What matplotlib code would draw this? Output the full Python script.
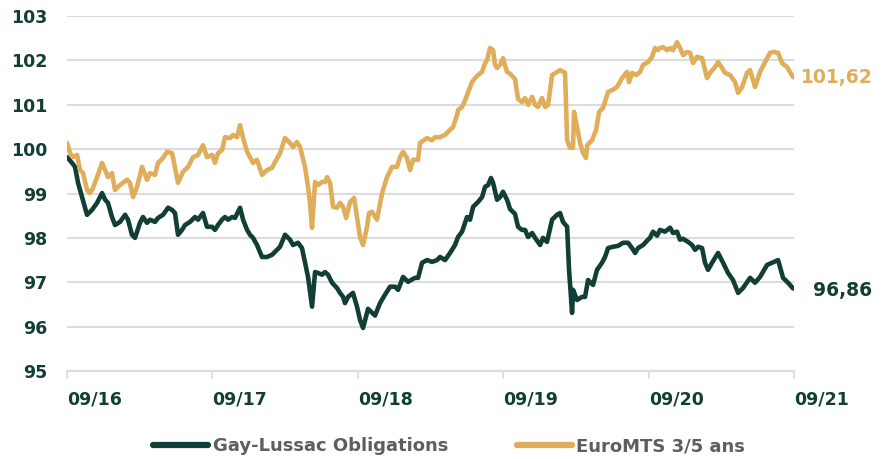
import numpy as np
import pandas as pd
import matplotlib
matplotlib.use("Agg")
import matplotlib.pyplot as plt

plt.rcParams['font.family'] = ['DejaVu Sans']

# months elapsed since 09/2016
gold_months = [0.00, 0.25, 0.50, 0.83, 1.07, 1.32, 1.65, 1.90, 2.15, 2.48, 2.89, 3.14, 3.38, 3.71, 3.96,
               4.37, 4.95, 5.20, 5.45, 5.78, 6.19, 6.60, 6.85, 7.26, 7.51, 7.92, 8.25, 8.67, 9.16, 9.57,
               9.99, 10.40, 10.81, 11.22, 11.55, 11.97, 12.21, 12.46, 12.79, 13.04, 13.45, 13.70, 14.03,
               14.28, 14.53, 14.86, 15.10, 15.35, 15.68, 16.09, 16.51, 16.92, 17.17, 17.58, 17.99, 18.40,
               18.65, 18.98, 19.23, 19.64, 19.89, 20.05, 20.22, 20.47, 20.71, 21.05, 21.29, 21.46, 21.71,
               21.95, 22.28, 22.53, 22.78, 23.03, 23.36, 23.69, 23.93, 24.18, 24.43, 24.76, 24.92, 25.17,
               25.58, 26.00, 26.41, 26.82, 27.23, 27.48, 27.73, 28.06, 28.31, 28.56, 28.97, 29.13, 29.71,
               30.12, 30.37, 30.78, 31.20, 31.44, 31.86, 32.19, 32.27, 32.60, 32.85, 33.09, 33.42, 33.67,
               33.92, 34.25, 34.50, 34.66, 34.91, 35.16, 35.32, 35.49, 35.74, 35.98, 36.31, 36.56, 36.97,
               37.22, 37.55, 37.80, 38.05, 38.38, 38.63, 38.87, 39.20, 39.45, 39.70, 40.03, 40.44, 40.69,
               41.10, 41.27, 41.51, 41.76, 41.84, 42.09, 42.34, 42.59, 42.83, 42.92, 43.33, 43.66, 43.91,
               44.24, 44.65, 44.98, 45.39, 45.80, 46.22, 46.38, 46.63, 46.96, 47.29, 47.54, 47.95, 48.28,
               48.53, 48.77, 48.94, 49.19, 49.52, 49.77, 50.01, 50.34, 50.59, 50.84, 51.17, 51.42, 51.66,
               51.99, 52.41, 52.82, 53.07, 53.48, 53.73, 54.06, 54.30, 54.72, 55.13, 55.38, 55.71, 56.12,
               56.37, 56.78, 57.19, 57.60, 58.02, 58.35, 58.68, 59.01, 59.42, 59.92]
gold_values = [100.14, 99.91, 99.82, 99.87, 99.53, 99.46, 99.08, 99.01, 99.13, 99.37, 99.69, 99.53, 99.37,
               99.46, 99.08, 99.19, 99.31, 99.24, 98.92, 99.15, 99.60, 99.31, 99.46, 99.42, 99.69, 99.80,
               99.94, 99.91, 99.24, 99.49, 99.60, 99.82, 99.87, 100.09, 99.82, 99.87, 99.69, 99.91, 99.98,
               100.27, 100.25, 100.32, 100.27, 100.54, 100.25, 99.94, 99.82, 99.69, 99.76, 99.42, 99.53,
               99.58, 99.71, 99.91, 100.25, 100.14, 100.05, 100.16, 100.05, 99.60, 99.15, 98.79, 98.23,
               99.26, 99.19, 99.26, 99.26, 99.37, 99.24, 98.70, 98.68, 98.79, 98.70, 98.45, 98.81, 98.90,
               98.47, 98.02, 97.84, 98.25, 98.56, 98.59, 98.41, 99.01, 99.37, 99.60, 99.60, 99.82, 99.94,
               99.80, 99.53, 99.76, 99.76, 100.14, 100.25, 100.20, 100.27, 100.27, 100.32, 100.39, 100.50,
               100.77, 100.88, 100.95, 101.10, 101.27, 101.51, 101.60, 101.67, 101.74, 101.94, 102.00,
               102.28, 102.23, 101.90, 101.83, 101.90, 102.05, 101.74, 101.70, 101.58, 101.13, 101.06,
               101.15, 101.00, 101.18, 101.00, 100.95, 101.15, 100.95, 101.00, 101.67, 101.74, 101.78,
               101.72, 100.20, 100.03, 100.03, 100.84, 100.50, 100.14, 99.91, 99.80, 100.09, 100.20,
               100.43, 100.84, 100.93, 101.29, 101.33, 101.40, 101.60, 101.74, 101.51, 101.72, 101.67,
               101.74, 101.90, 101.96, 102.08, 102.28, 102.23, 102.28, 102.30, 102.23, 102.28, 102.23,
               102.41, 102.28, 102.12, 102.19, 102.17, 101.94, 102.08, 102.05, 101.60, 101.72, 101.85,
               101.96, 101.83, 101.72, 101.67, 101.51, 101.27, 101.40, 101.72, 101.78, 101.40, 101.74,
               101.96, 102.17, 102.19, 102.17, 101.94, 101.85, 101.62]

green_months = [0.00, 0.41, 0.66, 0.91, 1.24, 1.65, 2.06, 2.48, 2.89, 3.14, 3.38, 3.71, 3.96, 4.37, 4.79,
                5.03, 5.36, 5.61, 6.02, 6.27, 6.60, 6.85, 7.26, 7.51, 7.92, 8.34, 8.67, 8.91, 9.16, 9.49,
                9.74, 10.15, 10.56, 10.81, 11.22, 11.55, 11.97, 12.21, 12.46, 12.79, 13.04, 13.29, 13.62,
                13.86, 14.28, 14.53, 14.86, 15.10, 15.35, 15.68, 16.09, 16.51, 16.92, 17.33, 17.58, 17.99,
                18.40, 18.65, 19.06, 19.39, 19.64, 19.89, 20.22, 20.47, 20.71, 21.05, 21.29, 21.54, 21.87,
                22.28, 22.53, 22.78, 22.94, 23.19, 23.60, 23.93, 24.18, 24.43, 24.84, 25.42, 25.83, 26.24,
                26.66, 27.07, 27.32, 27.73, 28.14, 28.72, 28.97, 29.30, 29.71, 30.12, 30.54, 30.78, 31.20,
                31.61, 32.02, 32.27, 32.60, 33.01, 33.26, 33.51, 33.92, 34.25, 34.50, 34.75, 34.99, 35.16,
                35.49, 35.74, 35.98, 36.31, 36.56, 36.97, 37.22, 37.55, 37.80, 38.05, 38.38, 38.63, 39.04,
                39.28, 39.61, 40.03, 40.44, 40.69, 40.93, 41.27, 41.43, 41.68, 41.76, 42.09, 42.50, 42.75,
                43.00, 43.41, 43.74, 44.15, 44.40, 44.65, 45.06, 45.47, 45.89, 46.30, 46.63, 46.88, 47.12,
                47.54, 47.95, 48.11, 48.36, 48.69, 48.94, 49.35, 49.77, 50.01, 50.34, 50.59, 50.84, 51.25,
                51.58, 51.83, 52.08, 52.41, 52.65, 52.90, 53.23, 53.73, 54.14, 54.55, 54.96, 55.38, 55.79,
                56.37, 56.78, 57.19, 57.77, 58.18, 58.68, 59.09, 59.50, 59.92]
green_values = [99.82, 99.69, 99.60, 99.24, 98.92, 98.52, 98.63, 98.79, 99.01, 98.86, 98.79, 98.47, 98.29,
                98.36, 98.52, 98.41, 98.07, 98.00, 98.34, 98.47, 98.34, 98.41, 98.36, 98.45, 98.52, 98.68,
                98.63, 98.56, 98.07, 98.18, 98.29, 98.36, 98.47, 98.41, 98.56, 98.25, 98.25, 98.18, 98.29,
                98.41, 98.47, 98.41, 98.47, 98.45, 98.68, 98.41, 98.18, 98.07, 98.00, 97.84, 97.57, 97.57,
                97.62, 97.73, 97.80, 98.07, 97.96, 97.84, 97.89, 97.77, 97.44, 97.12, 96.45, 97.23, 97.21,
                97.17, 97.23, 97.17, 96.99, 96.87, 96.76, 96.67, 96.53, 96.67, 96.76, 96.45, 96.15, 95.97,
                96.40, 96.25, 96.53, 96.72, 96.90, 96.90, 96.83, 97.12, 97.01, 97.10, 97.10, 97.44, 97.50,
                97.46, 97.50, 97.57, 97.50, 97.66, 97.84, 98.02, 98.14, 98.47, 98.41, 98.70, 98.81, 98.92,
                99.15, 99.19, 99.35, 99.24, 98.86, 98.92, 99.04, 98.86, 98.65, 98.54, 98.25, 98.18, 98.18,
                98.02, 98.11, 98.00, 97.84, 98.00, 97.91, 98.41, 98.52, 98.56, 98.36, 98.25, 97.28, 96.31,
                96.83, 96.60, 96.67, 96.67, 97.05, 96.94, 97.28, 97.44, 97.57, 97.77, 97.80, 97.82, 97.89,
                97.89, 97.77, 97.66, 97.77, 97.84, 97.96, 98.00, 98.14, 98.05, 98.18, 98.14, 98.23, 98.11,
                98.14, 97.96, 97.98, 97.91, 97.84, 97.73, 97.80, 97.77, 97.44, 97.28, 97.44, 97.66, 97.44,
                97.21, 97.05, 96.76, 96.87, 97.10, 96.99, 97.12, 97.39, 97.44, 97.50, 97.10, 96.99, 96.86]

series_names = ["Gay-Lussac Obligations", "EuroMTS 3/5 ans"]
end_labels = ["96,86", "101,62"]
tick_labels = ["09/16", "09/17", "09/18", "09/19", "09/20", "09/21"]

GREEN = "#123f35"
GOLD = "#e0ad5a"
GRID = "#dcdcdc"

start = pd.Timestamp("2016-09-01")
def to_dates(months):
    return start + pd.to_timedelta(np.array(months) * 30.4375, unit="D")

gold_dates = to_dates(gold_months)
green_dates = to_dates(green_months)
tick_dates = [pd.Timestamp(f"20{t[3:]}-09-01") for t in tick_labels]

fig = plt.figure(figsize=(8.89, 4.59), dpi=100)
ax = fig.add_axes([0.0754, 0.1917, 0.8177, 0.7734])

ax.plot(green_dates, green_values, color=GREEN, lw=3.3, solid_joinstyle="round",
        solid_capstyle="round", label=series_names[0], zorder=3)
ax.plot(gold_dates, gold_values, color=GOLD, lw=3.3, solid_joinstyle="round",
        solid_capstyle="round", label=series_names[1], zorder=3)

ax.set_ylim(95, 103)
ax.set_xlim(tick_dates[0], tick_dates[-1])
ax.set_yticks(range(95, 104))
ax.set_xticks(tick_dates)
ax.set_xticklabels(tick_labels)

ax.yaxis.grid(True, color=GRID, lw=1.5)
ax.set_axisbelow(True)
for s in ["top", "right", "left"]:
    ax.spines[s].set_visible(False)
ax.spines["bottom"].set_color(GRID)
ax.spines["bottom"].set_linewidth(1.5)

ax.tick_params(axis="y", length=0, pad=14, labelsize=12.5, labelcolor=GREEN)
ax.tick_params(axis="x", length=6, width=1.2, color=GRID, pad=8, labelsize=12.5, labelcolor=GREEN)
for lab in ax.get_yticklabels() + ax.get_xticklabels():
    lab.set_fontweight("bold")
for lab in ax.get_xticklabels():
    lab.set_ha("left")

ax.text(1.108, gold_values[-1], end_labels[1], transform=ax.get_yaxis_transform(),
        ha="right", va="center", fontsize=13.5, fontweight="bold", color=GOLD)
ax.text(1.108, green_values[-1] - 0.05, end_labels[0], transform=ax.get_yaxis_transform(),
        ha="right", va="center", fontsize=13.5, fontweight="bold", color=GREEN)

leg = fig.legend(loc="lower center", bbox_to_anchor=(0.505, -0.027), ncol=2, frameon=False,
                 fontsize=13, handlelength=3.05, handletextpad=0.25, columnspacing=3.8)
for t in leg.get_texts():
    t.set_color("#5e5e5e")
    t.set_fontweight("bold")
for h in leg.get_lines():
    h.set_linewidth(4.5)

fig.savefig("out.png", dpi=100)
